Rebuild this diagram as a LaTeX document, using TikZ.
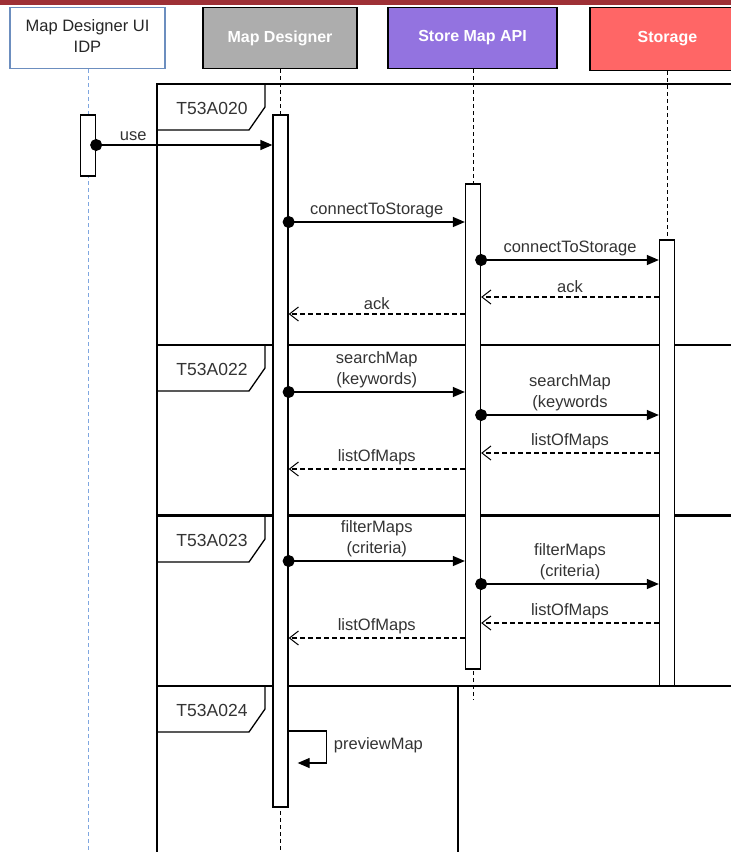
\documentclass[tikz,border=0pt]{standalone}
\usepackage{fontspec}
\setmainfont{Liberation Sans}
\usetikzlibrary{arrows.meta}

\definecolor{topbar}{RGB}{158,48,54}
\definecolor{uiblue}{RGB}{108,142,191}
\definecolor{lifeblue}{RGB}{126,166,224}
\definecolor{mdgray}{RGB}{173,173,173}
\definecolor{apipurple}{RGB}{147,115,224}
\definecolor{storered}{RGB}{255,102,102}
\definecolor{txtgray}{RGB}{51,51,51}

\begin{document}
\begin{tikzpicture}[x=1pt, y=-1pt, line width=1.3pt,
	every node/.style={font=\fontsize{16.5}{21}\selectfont, text=txtgray},
	>={Triangle[length=12pt, width=10pt]},
	head/.style={draw, minimum width=155pt, minimum height=61pt, text=white, font=\bfseries\fontsize{16}{20}\selectfont},
	actbar/.style={draw, fill=white, minimum width=15pt, inner sep=0pt},
	lifeline/.style={line width=1pt, dash pattern=on 4pt off 3pt},
	msg/.style={{Circle[length=12pt]}->, shorten <=-6pt},
	reply/.style={dash pattern=on 5pt off 3pt, -{Straight Barb[length=9pt, width=14pt, line width=1pt]}},
	tag/.style={font=\fontsize{17.5}{21}\selectfont}]
	\clip (0,0) rectangle (731,852);
	\useasboundingbox (0,0) rectangle (731,852);
	\fill[topbar] (0,0) rectangle (731,5);

	% participants
	\node[draw=uiblue, minimum width=155pt, minimum height=61pt, align=center, text=black!85] (ui) at (87.5,38) {\raisebox{-2pt}{\begin{tabular}{@{}c@{}}Map Designer UI\\IDP\end{tabular}}};
	\node[head, fill=mdgray, minimum width=154pt] (md) at (280,38) {Map Designer};
	\node[head, fill=apipurple, minimum width=169pt] (api) at (472.5,38) {Store Map API};
	\node[head, fill=storered, minimum height=63pt] (st) at (667.5,39) {Storage};

	% frames
	\draw (157,84) rectangle (760,345);
	\draw (157,345) rectangle (760,514.5);
	\draw (157,516) rectangle (760,686);
	\draw (157,686) rectangle (458,870);
	\draw (157,84) -- (265,84) -- (265,107) -- (249,130) -- (157,130);
	\draw (157,345) -- (265,345) -- (265,368) -- (249,391) -- (157,391);
	\draw (157,516) -- (265,516) -- (265,539) -- (249,562) -- (157,562);
	\draw (157,686) -- (265,686) -- (265,709) -- (249,732) -- (157,732);
	\node[tag] (tag1) at (212,108) {T53A020};
	\node[tag] (tag2) at (212,369) {T53A022};
	\node[tag] (tag3) at (212,540) {T53A023};
	\node[tag] (tag4) at (212,710) {T53A024};

	% lifelines
	\coordinate (uiend) at (88,852);
	\coordinate (mdend) at (280,852);
	\coordinate (apiend) at (473,700);
	\coordinate (stend) at (667,240);
	\draw[lifeline, lifeblue] (ui.south -| uiend) -- (uiend);
	\draw[lifeline] (md.south -| mdend) -- (mdend);
	\draw[lifeline] (api.south -| apiend) -- (apiend);
	\draw[lifeline] (st.south -| stend) -- (stend);

	% activations
	\node[actbar, minimum height=61pt] (uibar) at (88,145.5) {};
	\node[actbar, minimum height=692pt] (mdbar) at (280.5,461) {};
	\node[actbar, minimum height=485pt] (apibar) at (473,426.5) {};
	\node[actbar, minimum height=446pt] (stbar) at (667,463) {};

	% message levels
	\coordinate (m1) at (0,145);
	\coordinate (m2) at (0,222);
	\coordinate (m3) at (0,260);
	\coordinate (m4) at (0,297);
	\coordinate (m5) at (0,314);
	\coordinate (m6) at (0,392);
	\coordinate (m7) at (0,415);
	\coordinate (m8) at (0,453);
	\coordinate (m9) at (0,469);
	\coordinate (m10) at (0,561);
	\coordinate (m11) at (0,584);
	\coordinate (m12) at (0,623);
	\coordinate (m13) at (0,638);
	\coordinate (m14) at (0,731);
	\coordinate (m15) at (0,763);

	\draw[msg] (uibar.east |- m1) -- (mdbar.west |- m1) node[above, pos=0.21] {use};
	\draw[msg] (mdbar.east |- m2) -- (apibar.west |- m2) node[above, midway] {connectToStorage};
	\draw[msg] (apibar.east |- m3) -- (stbar.west |- m3) node[above, midway] {connectToStorage};
	\draw[reply] (stbar.west |- m4) -- (apibar.east |- m4) node[above, midway] {ack};
	\draw[reply] (apibar.west |- m5) -- (mdbar.east |- m5) node[above, midway] {ack};

	\draw[msg] (mdbar.east |- m6) -- (apibar.west |- m6) node[above, midway, align=center] {searchMap\\(keywords)};
	\draw[msg] (apibar.east |- m7) -- (stbar.west |- m7) node[above, midway, align=center] {searchMap\\(keywords};
	\draw[reply] (stbar.west |- m8) -- (apibar.east |- m8) node[above, midway] {listOfMaps};
	\draw[reply] (apibar.west |- m9) -- (mdbar.east |- m9) node[above, midway] {listOfMaps};

	\draw[msg] (mdbar.east |- m10) -- (apibar.west |- m10) node[above, midway, align=center] {filterMaps\\(criteria)};
	\draw[msg] (apibar.east |- m11) -- (stbar.west |- m11) node[above, midway, align=center] {filterMaps\\(criteria)};
	\draw[reply] (stbar.west |- m12) -- (apibar.east |- m12) node[above, midway] {listOfMaps};
	\draw[reply] (apibar.west |- m13) -- (mdbar.east |- m13) node[above, midway] {listOfMaps};

	\draw[->] (mdbar.east |- m14) -- ++(38,0) |- ([xshift=9pt]mdbar.east |- m15);
	\node[anchor=west] (pvlabel) at (330,745) {previewMap};
\end{tikzpicture}
\end{document}
